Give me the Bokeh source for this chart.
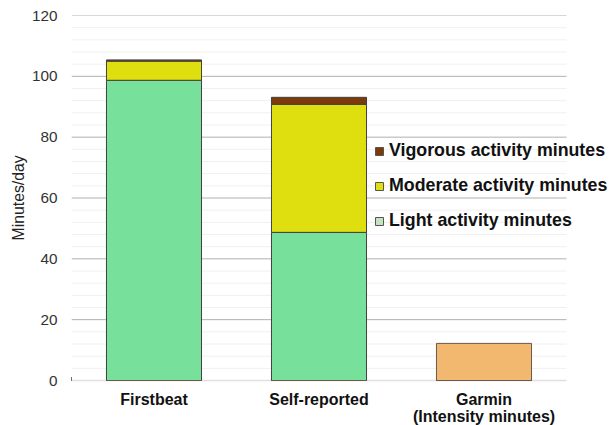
import numpy as np
from bokeh.plotting import figure
from bokeh.models import Range1d, Legend, LegendItem, ColumnDataSource, FixedTicker, Title
from bokeh.core.properties import value
from bokeh.embed import file_html
from bokeh.resources import INLINE

categories = ["Firstbeat", "Self-reported", "Garmin"]
second_line = ["", "", "(Intensity minutes)"]
light = [98.7, 48.7, 0]
moderate = [6.3, 42.1, 0]
vigorous = [0.4, 2.3, 0]
garmin_intensity = [0, 0, 12.2]
y_ticks = [0, 20, 40, 60, 80, 100, 120]

FONT = "Liberation Sans"
n = len(categories)
xpos = [i + 0.5 for i in range(n)]
extra = 44 / 165.0            # room on the right for the legend text
px_per_unit = 365.0 / (y_ticks[-1] - y_ticks[0])
below = 45 / px_per_unit      # room under zero for the category labels

p = figure(width=610, height=425, x_range=Range1d(0, n + extra),
           y_range=Range1d(y_ticks[0] - below, y_ticks[-1]), output_backend="svg", toolbar_location=None,
           min_border_left=71, min_border_top=15, min_border_bottom=0, min_border_right=0)
p.outline_line_color = None
p.xgrid.grid_line_color = None
p.ygrid.grid_line_color = None
p.xaxis.visible = False

# grid lines (only across the category area)
minor = [v for v in np.arange(y_ticks[0], y_ticks[-1] + 0.01, 4.0) if v not in y_ticks]
p.segment(x0=[0] * len(minor), x1=[n] * len(minor), y0=minor, y1=minor, line_color="#f0f0f0", line_width=1)
p.segment(x0=[0] * (len(y_ticks) - 1), x1=[n] * (len(y_ticks) - 1), y0=y_ticks[1:], y1=y_ticks[1:],
          line_color="#b0b0b0", line_width=1)
p.segment(x0=[0], x1=[n], y0=[y_ticks[0]], y1=[y_ticks[0]], line_color="#e0e0e0", line_width=1.5)

src = ColumnDataSource(dict(x=xpos, light=light, moderate=moderate,
                            vigorous=vigorous, garmin=garmin_intensity))
p.vbar_stack(["light", "moderate", "vigorous"], x="x", width=0.576, source=src,
             fill_color=["#77e09a", "#dfdf10", "#7f3a0a"], line_color="#404040", line_width=1)
p.vbar(x="x", top="garmin", width=0.576, source=src,
       fill_color="#f2b870", line_color="#6b5a4a", line_width=1)

# category labels (two lines)
lab = ColumnDataSource(dict(x=xpos, y=[y_ticks[0]] * n, t1=categories, t2=second_line))
for col, off in (("t1", 19), ("t2", 36)):
    p.text(x="x", y="y", text=col, source=lab, y_offset=off, text_align="center", text_baseline="middle",
           text_font=value(FONT), text_font_style="bold", text_font_size="16px", text_color="#111111")

# legend proxies (off-screen)
r_v = p.vbar(x=[-10], top=[1], width=0.5, fill_color="#7f3a0a", line_color="#555555")
r_m = p.vbar(x=[-10], top=[1], width=0.5, fill_color="#dfdf10", line_color="#555555")
r_l = p.vbar(x=[-10], top=[1], width=0.5, fill_color="#c5e3c0", line_color="#555555")

legend = Legend(items=[LegendItem(label="Vigorous activity minutes", renderers=[r_v]),
                       LegendItem(label="Moderate activity minutes", renderers=[r_m]),
                       LegendItem(label="Light activity minutes", renderers=[r_l])],
                location=(303, 194), orientation="vertical")
legend.glyph_width = 10
legend.glyph_height = 10
legend.label_height = 21
legend.spacing = 14
legend.label_standoff = 5
legend.padding = 0
legend.margin = 0
legend.border_line_color = None
legend.background_fill_alpha = 0
legend.label_text_font = FONT
legend.label_text_font_style = "bold"
legend.label_text_font_size = "17.8px"
legend.label_text_color = "#111111"
p.add_layout(legend, "center")

# y axis
p.yaxis.ticker = FixedTicker(ticks=y_ticks)
p.yaxis.axis_line_color = None
p.yaxis.major_tick_line_color = None
p.yaxis.minor_tick_line_color = None
p.yaxis.major_tick_out = 0
p.yaxis.major_tick_in = 0
p.yaxis.major_label_text_font = FONT
p.yaxis.major_label_text_font_size = "15.3px"
p.yaxis.major_label_text_color = "#333333"
p.yaxis.major_label_standoff = 14

ytitle = Title(text="Minutes/day", align="left", offset=185, standoff=3,
               text_font=FONT, text_font_style="normal", text_font_size="15.8px", text_color="#222222")
p.add_layout(ytitle, "left")

open("out.html", "w").write(file_html(p, INLINE))
